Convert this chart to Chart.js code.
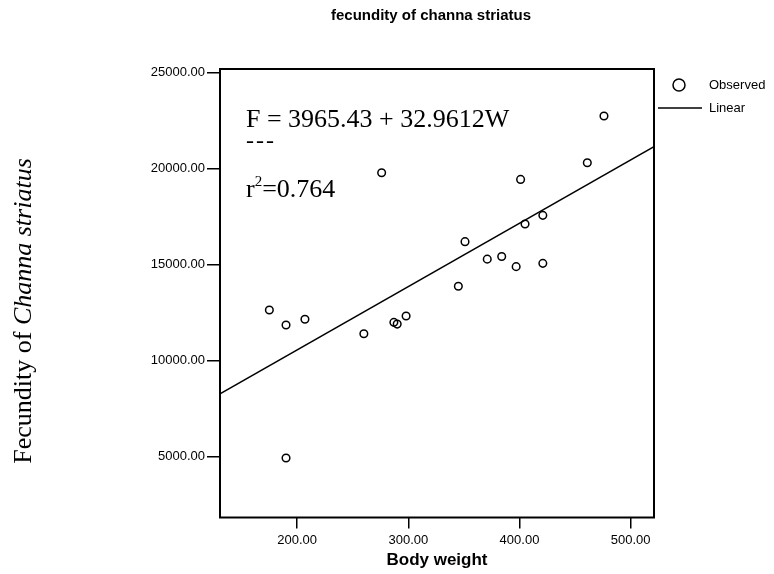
<!DOCTYPE html>
<html>
<head>
<meta charset="utf-8">
<script src="https://cdn.jsdelivr.net/npm/chart.js@4.4.1/dist/chart.umd.min.js"></script>
<style>
  html, body { margin: 0; padding: 0; background: #fff; }
</style>
</head>
<body>
<canvas id="fecundityChart" width="774" height="574"></canvas>
<script>
// observed points (body weight vs fecundity)
var bodyWeight = [175, 190, 207, 260, 287, 290, 298, 345, 190, 371, 384, 397, 351, 276, 401, 405, 421, 421, 461, 476];
var fecundity = [12630, 11850, 12150, 11400, 11990, 11900, 12320, 13870, 4930, 15280, 15420, 14890, 16190, 19780, 19430, 17110, 17560, 15060, 20300, 22730];

// ends of the fitted line
var fitWeight = [130.6, 521];
var fitFecundity = [8270, 21140];

var xTicks = [200, 300, 400, 500];
var yTicks = [5000, 10000, 15000, 20000, 25000];

var sans = "'Liberation Sans', Arial, sans-serif";
var serif = "'Liberation Serif', 'Times New Roman', serif";

var decorations = {
    id: 'decorations',
    afterDraw: function (chart) {
        var ctx = chart.ctx;
        var a = chart.chartArea;
        ctx.save();

        // frame
        ctx.strokeStyle = '#000';
        ctx.lineWidth = 2;
        ctx.strokeRect(a.left, a.top, a.right - a.left, a.bottom - a.top);

        ctx.fillStyle = '#000';

        // title
        ctx.font = 'bold 15px ' + sans;
        ctx.textAlign = 'center';
        ctx.textBaseline = 'middle';
        ctx.fillText('fecundity of channa striatus', 431, 16);

        // y axis title, mixed roman / italic
        ctx.save();
        ctx.translate(31, 311);
        ctx.rotate(-Math.PI / 2);
        ctx.textBaseline = 'alphabetic';
        ctx.textAlign = 'left';
        var p1 = 'Fecundity of ';
        var p2 = 'Channa striatus';
        ctx.font = '26px ' + serif;
        var w1 = ctx.measureText(p1).width;
        ctx.font = 'italic 26px ' + serif;
        var w2 = ctx.measureText(p2).width;
        var sx = -(w1 + w2) / 2;
        ctx.font = '26px ' + serif;
        ctx.fillText(p1, sx, 0);
        ctx.font = 'italic 26px ' + serif;
        ctx.fillText(p2, sx + w1, 0);
        ctx.restore();

        // equation
        ctx.textAlign = 'left';
        ctx.textBaseline = 'alphabetic';
        ctx.font = '26px ' + serif;
        ctx.fillText('F = 3965.43 + 32.9612W', 246, 127);
        ctx.save();
        ctx.letterSpacing = '2px';
        ctx.font = '24px ' + serif;
        ctx.fillText('---', 246, 148);
        ctx.restore();
        ctx.font = '26px ' + serif;
        ctx.fillText('r', 246, 197);
        var rw = ctx.measureText('r').width;
        ctx.font = '15px ' + serif;
        ctx.fillText('2', 246 + rw, 186);
        var sw = ctx.measureText('2').width;
        ctx.font = '26px ' + serif;
        ctx.fillText('=0.764', 246 + rw + sw, 197);

        // legend
        ctx.lineWidth = 1.5;
        ctx.beginPath();
        ctx.arc(679, 85, 6, 0, Math.PI * 2);
        ctx.stroke();
        ctx.beginPath();
        ctx.moveTo(658, 108);
        ctx.lineTo(702, 108);
        ctx.stroke();
        ctx.font = '13px ' + sans;
        ctx.textBaseline = 'middle';
        ctx.fillText('Observed', 709, 85);
        ctx.fillText('Linear', 709, 108);

        ctx.restore();
    }
};

var ctx = document.getElementById('fecundityChart').getContext('2d');
new Chart(ctx, {
    type: 'scatter',
    data: {
        datasets: [{
            label: 'Observed',
            data: bodyWeight.map(function (w, i) { return { x: w, y: fecundity[i] }; }),
            pointRadius: 3.8,
            pointHoverRadius: 3.8,
            pointBorderWidth: 1.5,
            pointBackgroundColor: 'rgba(255,255,255,0)',
            pointBorderColor: '#000'
        }, {
            type: 'line',
            label: 'Linear',
            data: fitWeight.map(function (w, i) { return { x: w, y: fitFecundity[i] }; }),
            borderColor: '#000',
            borderWidth: 1.5,
            pointRadius: 0,
            fill: false
        }]
    },
    options: {
        responsive: false,
        animation: false,
        devicePixelRatio: 1,
        layout: { padding: { top: 69, right: 120, bottom: 0, left: 0 } },
        plugins: {
            legend: { display: false },
            title: { display: false },
            tooltip: { enabled: false }
        },
        scales: {
            x: {
                type: 'linear',
                position: 'bottom',
                min: 130.6,
                max: 521,
                afterBuildTicks: function (s) { s.ticks = xTicks.map(function (v) { return { value: v }; }); },
                afterFit: function (s) { s.height = 56.5; },
                ticks: {
                    callback: function (v) { return Number(v).toFixed(2); },
                    font: { family: sans, size: 13 },
                    color: '#000',
                    padding: 4,
                    maxRotation: 0,
                    autoSkip: false
                },
                grid: { drawOnChartArea: false, drawTicks: true, tickLength: 11, color: '#000', lineWidth: 1.5 },
                border: { display: false },
                title: {
                    display: true,
                    text: 'Body weight',
                    font: { family: sans, size: 17, weight: 'bold' },
                    color: '#000',
                    padding: { top: 0, bottom: 3 }
                }
            },
            y: {
                type: 'linear',
                position: 'left',
                min: 1833,
                max: 25177,
                afterBuildTicks: function (s) { s.ticks = yTicks.map(function (v) { return { value: v }; }); },
                afterFit: function (s) { s.width = 220; },
                ticks: {
                    callback: function (v) { return Number(v).toFixed(2); },
                    font: { family: sans, size: 13 },
                    color: '#000',
                    padding: 2,
                    autoSkip: false
                },
                grid: { drawOnChartArea: false, drawTicks: true, tickLength: 13, color: '#000', lineWidth: 1.5 },
                border: { display: false }
            }
        }
    },
    plugins: [decorations]
});
</script>
</body>
</html>
